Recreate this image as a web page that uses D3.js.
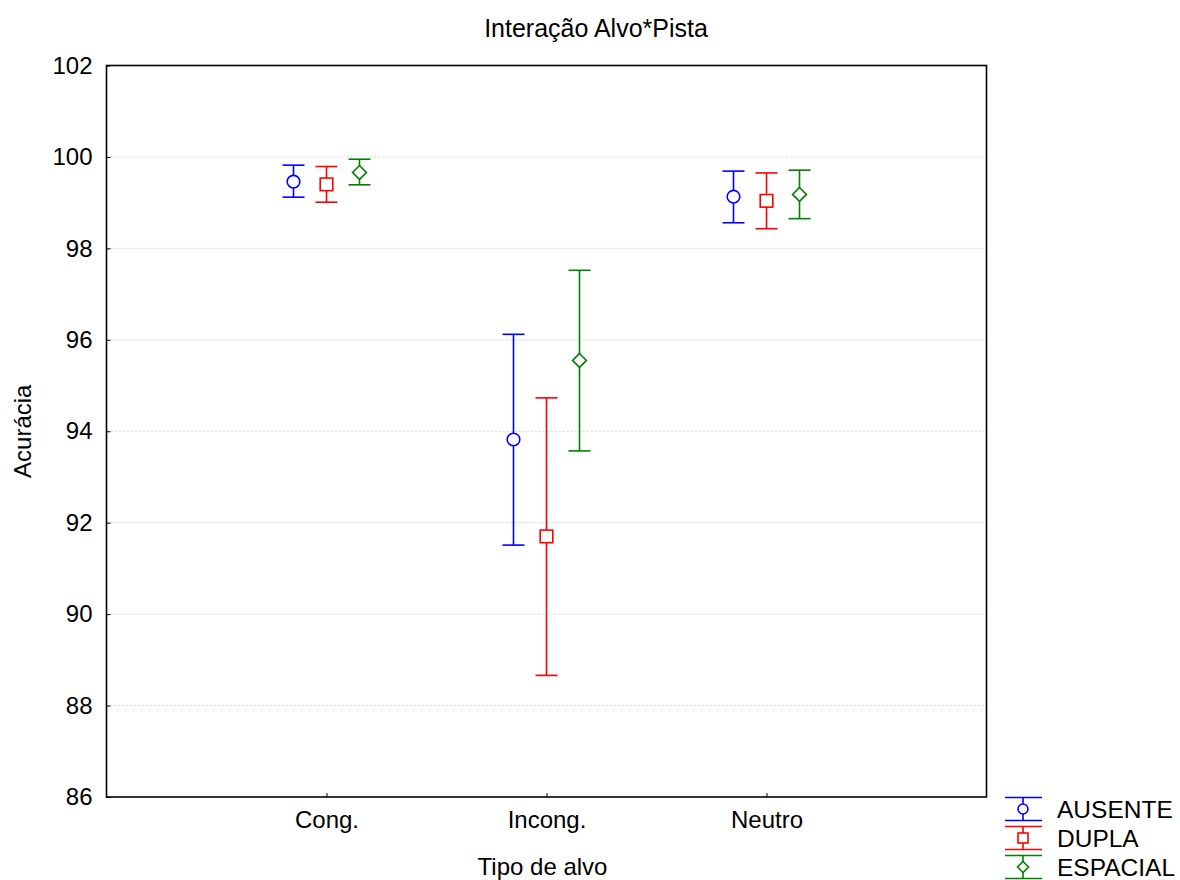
<!DOCTYPE html>
<html>
<head>
<meta charset="utf-8">
<script src="https://cdn.jsdelivr.net/npm/d3@7"></script>
<style>
  html, body { margin: 0; padding: 0; background: #fff; }
  svg { display: block; font-family: "Liberation Sans", Arial, sans-serif; }
</style>
</head>
<body>
<svg id="chart" width="1180" height="880"></svg>
<script>
// Categories, groups and tick values
const categories = ["Cong.", "Incong.", "Neutro"];
const groups = ["AUSENTE", "DUPLA", "ESPACIAL"];
const yTicks = [86, 88, 90, 92, 94, 96, 98, 100, 102];

// Means and confidence limits per group, one value per category
const ausenteMean = [99.46, 93.82, 99.13];
const ausenteLow  = [99.12, 91.51, 98.56];
const ausenteHigh = [99.82, 96.12, 99.69];

const duplaMean = [99.40, 91.70, 99.04];
const duplaLow  = [99.01, 88.66, 98.43];
const duplaHigh = [99.79, 94.73, 99.65];

const espacialMean = [99.66, 95.55, 99.18];
const espacialLow  = [99.39, 93.57, 98.65];
const espacialHigh = [99.95, 97.52, 99.71];

const seriesTable = [
  { name: "AUSENTE",  color: "#0000ff", shape: "circle",  mean: ausenteMean,  low: ausenteLow,  high: ausenteHigh },
  { name: "DUPLA",    color: "#ff0000", shape: "square",  mean: duplaMean,    low: duplaLow,    high: duplaHigh },
  { name: "ESPACIAL", color: "#008000", shape: "diamond", mean: espacialMean, low: espacialLow, high: espacialHigh }
];

const svg = d3.select("#chart");
const plotLeft = 106.5, plotRight = 986.5, plotTop = 65.5, plotBottom = 797;

const x = d3.scalePoint().domain(categories).range([plotLeft, plotRight]).padding(1);
const offset = d3.scalePoint().domain(groups).range([-33, 33]);
const y = d3.scaleLinear().domain([86, 102]).range([plotBottom, plotTop]);

// Dotted grid lines
svg.append("g")
  .selectAll("line")
  .data(yTicks.filter(t => t > 86 && t < 102))
  .join("line")
  .attr("x1", plotLeft).attr("x2", plotRight)
  .attr("y1", d => y(d)).attr("y2", d => y(d))
  .attr("stroke", "#d2d2d2")
  .attr("stroke-width", 1)
  .attr("stroke-dasharray", "2,2");

// Y axis with inward ticks
const yAxis = svg.append("g")
  .attr("transform", `translate(${plotLeft},0)`)
  .call(d3.axisLeft(y).tickValues(yTicks).tickSize(-4).tickPadding(14).tickFormat(d3.format("d")));
yAxis.select(".domain").remove();
yAxis.selectAll(".tick line").attr("stroke", "#000").attr("stroke-width", 1);
yAxis.selectAll(".tick text")
  .attr("font-size", 24).attr("fill", "#000")
  .attr("font-family", "'Liberation Sans', Arial, sans-serif");

// X axis with inward ticks
const xAxis = svg.append("g")
  .attr("transform", `translate(0,${plotBottom})`)
  .call(d3.axisBottom(x).tickSize(-4).tickPadding(14));
xAxis.select(".domain").remove();
xAxis.selectAll(".tick line").attr("stroke", "#000").attr("stroke-width", 1);
xAxis.selectAll(".tick text")
  .attr("font-size", 24).attr("fill", "#000")
  .attr("font-family", "'Liberation Sans', Arial, sans-serif");

// Plot frame
svg.append("rect")
  .attr("x", plotLeft).attr("y", plotTop)
  .attr("width", plotRight - plotLeft).attr("height", plotBottom - plotTop)
  .attr("fill", "none").attr("stroke", "#000").attr("stroke-width", 1.6);

// Marker drawing
function drawMarker(g, shape, cx, cy, size, color) {
  if (shape === "circle") {
    g.append("circle").attr("cx", cx).attr("cy", cy).attr("r", size)
      .attr("fill", "#fff").attr("stroke", color).attr("stroke-width", 1.6);
  } else if (shape === "square") {
    g.append("rect").attr("x", cx - size).attr("y", cy - size)
      .attr("width", size * 2).attr("height", size * 2)
      .attr("fill", "#fff").attr("stroke", color).attr("stroke-width", 1.6);
  } else {
    const s = size * 1.1;
    g.append("path")
      .attr("d", `M${cx},${cy - s}L${cx + s},${cy}L${cx},${cy + s}L${cx - s},${cy}Z`)
      .attr("fill", "#fff").attr("stroke", color).attr("stroke-width", 1.6);
  }
}

// Error bars with means
const capHalf = 11;
seriesTable.forEach(s => {
  const g = svg.append("g");
  categories.forEach((c, i) => {
    const cx = x(c) + offset(s.name);
    g.append("line")
      .attr("x1", cx).attr("x2", cx)
      .attr("y1", y(s.high[i])).attr("y2", y(s.low[i]))
      .attr("stroke", s.color).attr("stroke-width", 1.6);
    [s.high[i], s.low[i]].forEach(v => {
      g.append("line")
        .attr("x1", cx - capHalf).attr("x2", cx + capHalf)
        .attr("y1", y(v)).attr("y2", y(v))
        .attr("stroke", s.color).attr("stroke-width", 1.6);
    });
    drawMarker(g, s.shape, cx, y(s.mean[i]), 6.3, s.color);
  });
});

// Title and axis titles
svg.append("text")
  .attr("x", 596).attr("y", 37)
  .attr("text-anchor", "middle").attr("font-size", 25)
  .text("Interação Alvo*Pista");

svg.append("text")
  .attr("x", (plotLeft + plotRight) / 2 - 4).attr("y", 875)
  .attr("text-anchor", "middle").attr("font-size", 24)
  .text("Tipo de alvo");

svg.append("text")
  .attr("transform", `translate(31,${(plotTop + plotBottom) / 2}) rotate(-90)`)
  .attr("text-anchor", "middle").attr("font-size", 24)
  .text("Acurácia");

// Legend
const legend = svg.append("g");
seriesTable.forEach((s, i) => {
  const cy = 809 + i * 29;
  const lx = 1023;
  const g = legend.append("g");
  [cy - 11.5, cy + 11.5].forEach(ly => {
    g.append("line").attr("x1", lx - 18).attr("x2", lx + 19)
      .attr("y1", ly).attr("y2", ly)
      .attr("stroke", s.color).attr("stroke-width", 1.6);
  });
  g.append("line").attr("x1", lx).attr("x2", lx)
    .attr("y1", cy - 11.5).attr("y2", cy + 11.5)
    .attr("stroke", s.color).attr("stroke-width", 1.6);
  drawMarker(g, s.shape, lx, cy, 5, s.color);
  g.append("text")
    .attr("x", 1057).attr("y", cy + 8.6)
    .attr("font-size", 24.5)
    .text(s.name);
});
</script>
</body>
</html>
